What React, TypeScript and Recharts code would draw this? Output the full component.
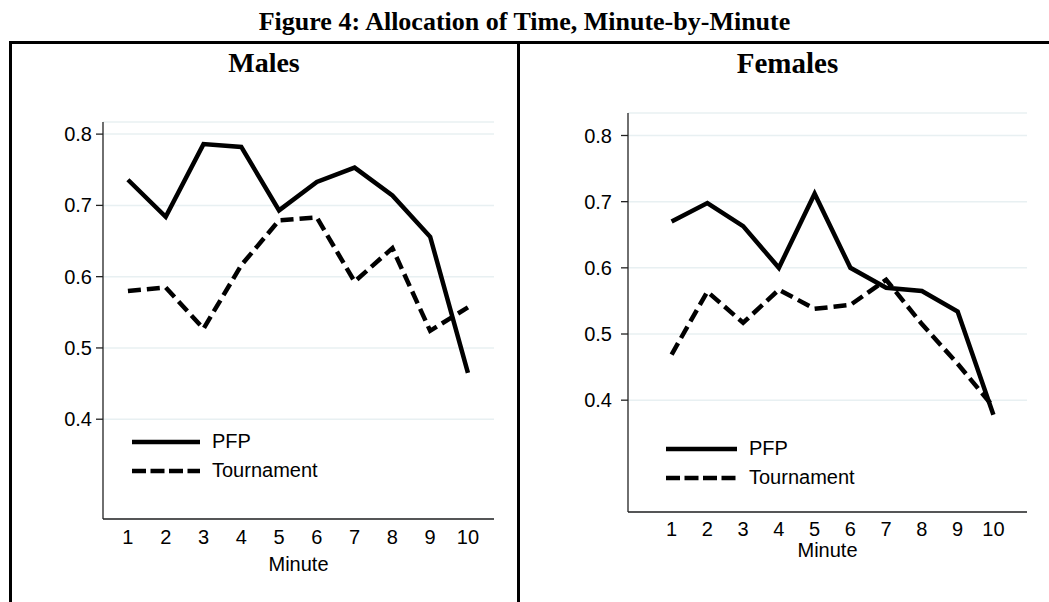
import { LineChart, Line, XAxis, YAxis, CartesianGrid, Legend } from "recharts";

const minutes = [1, 2, 3, 4, 5, 6, 7, 8, 9, 10];
const malesPfp = [0.736, 0.684, 0.786, 0.782, 0.693, 0.733, 0.753, 0.714, 0.656, 0.465];
const malesTournament = [0.58, 0.585, 0.527, 0.616, 0.679, 0.683, 0.593, 0.64, 0.524, 0.557];
const femalesPfp = [0.67, 0.698, 0.663, 0.6, 0.712, 0.6, 0.57, 0.565, 0.534, 0.378];
const femalesTournament = [0.469, 0.564, 0.517, 0.567, 0.538, 0.544, 0.582, 0.515, 0.455, 0.39];
const yTicks = [0.4, 0.5, 0.6, 0.7, 0.8];

const sans = "'Liberation Sans', Arial, sans-serif";
const serif = "'Liberation Serif', 'Times New Roman', serif";
const fs = 20;

const toRows = (pfp: number[], tour: number[]) =>
  minutes.map((m, i) => ({ minute: m, pfp: pfp[i], tournament: tour[i] }));

function LegendBox({ sample, dash }: { sample: number; dash: string }) {
  const row = (label: string, dashed: boolean) => (
    <div style={{ display: "flex", alignItems: "center", height: 29 }}>
      <svg width={sample} height={10} style={{ marginRight: 12 }}>
        <line x1={0} y1={5} x2={sample} y2={5} stroke="#000" strokeWidth={4.5}
          strokeDasharray={dashed ? dash : undefined} />
      </svg>
      <span style={{ fontFamily: sans, fontSize: fs, color: "#000" }}>{label}</span>
    </div>
  );
  return (
    <div>
      {row("PFP", false)}
      {row("Tournament", true)}
    </div>
  );
}

interface PanelProps {
  rows: { minute: number; pfp: number; tournament: number }[];
  width: number;
  height: number;
  margin: { top: number; right: number; bottom: number; left: number };
  xDomain: [number, number];
  yDomain: [number, number];
  xTickGap: number;
  yTickGap: number;
  minuteOffset: number;
  legendPos: { left: number; top: number };
  legendSample: number;
}

function Panel(p: PanelProps) {
  const axisStroke = "#222";
  return (
    <LineChart width={p.width} height={p.height} data={p.rows} margin={p.margin}>
      <CartesianGrid vertical={false} stroke="#E8F0F2" strokeWidth={1.5} />
      <XAxis
        dataKey="minute"
        type="number"
        domain={p.xDomain}
        ticks={minutes}
        allowDataOverflow
        height={60}
        tickLine={false}
        tickSize={0}
        tickMargin={p.xTickGap}
        axisLine={{ stroke: axisStroke, strokeWidth: 1.3 }}
        tick={{ fontFamily: sans, fontSize: fs, fill: "#000" }}
        label={{ value: "Minute", position: "insideTop", offset: p.minuteOffset, fontFamily: sans, fontSize: fs, fill: "#000" }}
      />
      <YAxis
        type="number"
        domain={p.yDomain}
        ticks={yTicks}
        allowDataOverflow
        width={60}
        tickSize={7}
        tickMargin={p.yTickGap}
        tickFormatter={(v: number) => v.toFixed(1)}
        axisLine={{ stroke: axisStroke, strokeWidth: 1.3 }}
        tickLine={{ stroke: axisStroke, strokeWidth: 1.3 }}
        tick={{ fontFamily: sans, fontSize: fs, fill: "#000" }}
      />
      <Legend
        layout="vertical"
        align="center"
        verticalAlign="middle"
        wrapperStyle={{ left: p.legendPos.left, top: p.legendPos.top, width: "auto" }}
        content={() => <LegendBox sample={p.legendSample} dash="14 4.5" />}
      />
      <Line dataKey="pfp" name="PFP" stroke="#000" strokeWidth={4.5} dot={false}
        strokeLinejoin="miter" isAnimationActive={false} />
      <Line dataKey="tournament" name="Tournament" stroke="#000" strokeWidth={4.5} dot={false}
        strokeDasharray="13 6" strokeLinejoin="miter" isAnimationActive={false} />
    </LineChart>
  );
}

export default function App() {
  const titleStyle = { position: "absolute" as const, fontFamily: serif, fontWeight: 700, color: "#000", whiteSpace: "nowrap" as const };
  return (
    <div style={{ position: "absolute", left: 0, top: 0, width: 1049, height: 602, background: "#fff", overflow: "hidden" }}>
      <div style={{ ...titleStyle, left: 0, width: 1049, top: 6, fontSize: 26, lineHeight: "32px", textAlign: "center" }}>
        Figure 4: Allocation of Time, Minute-by-Minute
      </div>
      <div style={{ position: "absolute", left: 9, top: 41, width: 1040, height: 3, background: "#000" }} />
      <div style={{ position: "absolute", left: 9, top: 41, width: 3, height: 561, background: "#000" }} />
      <div style={{ position: "absolute", left: 517, top: 41, width: 3, height: 561, background: "#000" }} />
      <div style={{ ...titleStyle, left: 11, width: 506, top: 46, fontSize: 28, lineHeight: "34px", textAlign: "center" }}>
        Males
      </div>
      <div style={{ ...titleStyle, left: 520, width: 535, top: 46, fontSize: 29, lineHeight: "34px", textAlign: "center" }}>
        Females
      </div>
      <div style={{ position: "absolute", left: 0, top: 0 }}>
        <Panel
          rows={toRows(malesPfp, malesTournament)}
          width={520}
          height={602}
          margin={{ top: 122, right: 26, bottom: 23, left: 43 }}
          xDomain={[0.34, 10.69]}
          yDomain={[0.26, 0.817]}
          xTickGap={11}
          yTickGap={4}
          minuteOffset={38}
          legendPos={{ left: 132, top: 427 }}
          legendSample={68}
        />
      </div>
      <div style={{ position: "absolute", left: 520, top: 0 }}>
        <Panel
          rows={toRows(femalesPfp, femalesTournament)}
          width={529}
          height={602}
          margin={{ top: 113, right: 22, bottom: 30, left: 48 }}
          xDomain={[-0.22, 10.94]}
          yDomain={[0.231, 0.834]}
          xTickGap={9.5}
          yTickGap={9}
          minuteOffset={31}
          legendPos={{ left: 146, top: 434 }}
          legendSample={71}
        />
      </div>
    </div>
  );
}
